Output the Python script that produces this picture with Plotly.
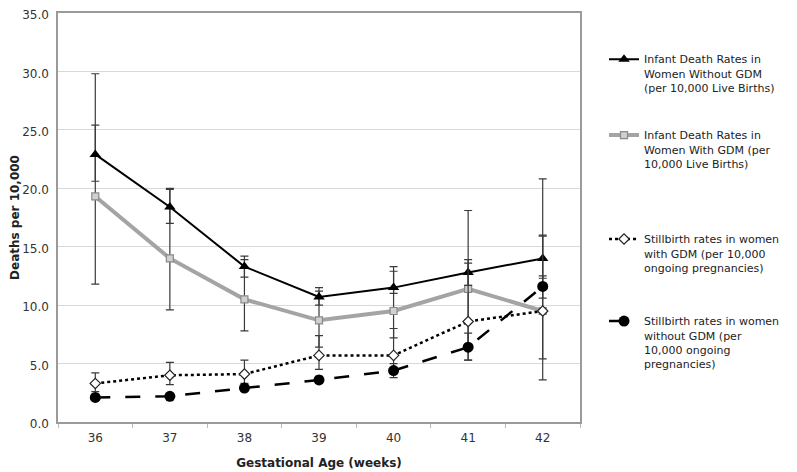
import plotly.graph_objects as go

weeks = ["36", "37", "38", "39", "40", "41", "42"]

infant_no_gdm = [22.9, 18.4, 13.3, 10.7, 11.5, 12.8, 14.0]
infant_no_gdm_hi = [25.4, 20.0, 14.2, 11.5, 13.3, 13.9, 16.0]
infant_no_gdm_lo = [20.6, 17.0, 12.4, 10.0, 11.0, 11.7, 12.3]

infant_gdm = [19.3, 14.0, 10.5, 8.7, 9.5, 11.4, 9.5]
infant_gdm_hi = [29.8, 19.9, 13.9, 11.2, 12.9, 18.1, 20.8]
infant_gdm_lo = [11.8, 9.6, 7.8, 6.4, 7.2, 6.4, 3.6]

still_gdm = [3.3, 4.0, 4.1, 5.7, 5.7, 8.6, 9.5]
still_gdm_hi = [4.2, 5.1, 5.3, 7.4, 8.0, 13.6, 15.9]
still_gdm_lo = [2.6, 3.2, 3.3, 4.5, 4.2, 5.3, 5.4]

still_no_gdm = [2.1, 2.2, 2.9, 3.6, 4.4, 6.4, 11.6]
still_no_gdm_hi = [2.3, 2.4, 3.1, 3.9, 5.0, 7.6, 12.5]
still_no_gdm_lo = [1.9, 2.0, 2.7, 3.3, 3.8, 5.3, 10.6]

names = [
    "Infant Death Rates in<br>Women Without GDM<br>(per 10,000 Live Births)",
    "Infant Death Rates in<br>Women With GDM (per<br>10,000 Live Births)",
    "Stillbirth rates in women<br>with GDM (per 10,000<br>ongoing pregnancies)",
    "Stillbirth rates in women<br>without GDM (per<br>10,000 ongoing<br>pregnancies)",
]


def err(vals, hi, lo):
    return dict(
        type="data",
        symmetric=False,
        array=[h - v for h, v in zip(hi, vals)],
        arrayminus=[v - l for v, l in zip(vals, lo)],
        color="#3a3a3a",
        thickness=1.2,
        width=4,
    )


fig = go.Figure()

fig.add_trace(go.Scatter(
    x=weeks, y=infant_gdm, name=names[1], mode="lines+markers",
    line=dict(color="#a4a4a4", width=4),
    marker=dict(symbol="square", size=7, color="#d0d0d0", line=dict(color="#8a8a8a", width=1.2)),
    error_y=err(infant_gdm, infant_gdm_hi, infant_gdm_lo),
    legend="legend2",
))
fig.add_trace(go.Scatter(
    x=weeks, y=infant_no_gdm, name=names[0], mode="lines+markers",
    line=dict(color="#000000", width=2),
    marker=dict(symbol="triangle-up", size=10, color="#000000"),
    error_y=err(infant_no_gdm, infant_no_gdm_hi, infant_no_gdm_lo),
    legend="legend",
))
fig.add_trace(go.Scatter(
    x=weeks, y=still_gdm, name=names[2], mode="lines+markers",
    line=dict(color="#000000", width=2.5, dash="dot"),
    marker=dict(symbol="diamond", size=8, color="#ffffff", line=dict(color="#222222", width=1.2)),
    error_y=err(still_gdm, still_gdm_hi, still_gdm_lo),
    legend="legend3",
))
fig.add_trace(go.Scatter(
    x=weeks, y=still_no_gdm, name=names[3], mode="lines+markers",
    line=dict(color="#000000", width=2.5, dash="longdash"),
    marker=dict(symbol="circle", size=11, color="#000000"),
    error_y=err(still_no_gdm, still_no_gdm_hi, still_no_gdm_lo),
    legend="legend4",
))

leg_font = dict(family="DejaVu Sans", size=11, color="#222222")
def leg(y):
    return dict(x=0.7554, y=y, xref="container", yref="container",
                xanchor="left", yanchor="top", font=leg_font,
                bgcolor="rgba(0,0,0,0)", borderwidth=0, valign="top")

fig.update_layout(
    width=789, height=464,
    margin=dict(l=50, r=217, t=5, b=50, autoexpand=False),
    plot_bgcolor="white", paper_bgcolor="white",
    font=dict(family="DejaVu Sans", color="#333333"),
    showlegend=True,
    legend=leg(0.9192),
    legend2=leg(0.7556),
    legend3=leg(0.5315),
    legend4=leg(0.3547),
    xaxis=dict(
        type="category", range=[-0.5, 6.5], automargin=False,
        showline=True, mirror=True, linecolor="#9a9a9a", linewidth=1.5,
        ticks="outside", tickson="boundaries", ticklen=4, tickcolor="#bbbbbb",
        ticklabelstandoff=4,
        showgrid=False, tickfont=dict(size=12, color="#333333"),
        title=dict(text="<b>Gestational Age (weeks)</b>", font=dict(size=12, color="#222222"), standoff=14),
    ),
    yaxis=dict(
        range=[0, 35], dtick=5, tickformat=".1f", automargin=False,
        ticklabeloverflow="allow", ticklabelshift=2,
        showline=True, mirror=True, linecolor="#9a9a9a", linewidth=1.5,
        showgrid=True, gridcolor="#d9d9d9", gridwidth=1,
        ticks="outside", ticklen=5, tickcolor="rgba(0,0,0,0)",
        tickfont=dict(size=12, color="#333333"), zeroline=False,
        title=dict(text="<b>Deaths per 10,000</b>", font=dict(size=12, color="#222222"), standoff=2),
    ),
)

fig.write_html("out.html")
